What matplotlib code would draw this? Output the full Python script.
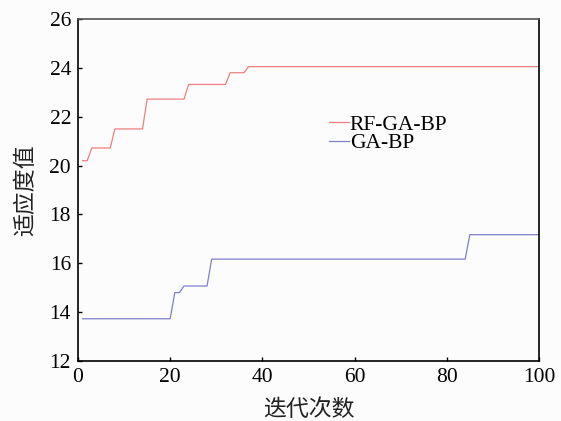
import matplotlib
matplotlib.use("Agg")
import matplotlib.pyplot as plt

# Best fitness per iteration (vertices of the step curves)
rf_iter = [1, 2, 3, 7, 8, 14, 15, 23, 24, 32, 33, 36, 37, 100]
rf_fit = [20.2, 20.2, 20.72, 20.72, 21.5, 21.5, 22.72, 22.72, 23.32, 23.32, 23.8, 23.8, 24.05, 24.05]

ga_iter = [1, 20, 21, 22, 23, 28, 29, 84, 85, 100]
ga_fit = [13.73, 13.73, 14.8, 14.8, 15.07, 15.07, 16.17, 16.17, 17.17, 17.17]

labels = ["RF-GA-BP", "GA-BP"]
xticks = [0, 20, 40, 60, 80, 100]
yticks = [12, 14, 16, 18, 20, 22, 24, 26]

serif = ["Liberation Serif", "DejaVu Serif"]
cjk = ["Noto Sans CJK SC", "DejaVu Sans"]

fig = plt.figure(figsize=(5.61, 4.21), dpi=100, facecolor="#fcfcfc")
ax = fig.add_axes([0.139, 0.1425, 0.8217, 0.8124])
ax.set_facecolor("#fcfcfc")

ax.plot(rf_iter, rf_fit, color="#ee7f7f", lw=0.9, label=labels[0])
ax.plot(ga_iter, ga_fit, color="#7f7fcc", lw=0.9, label=labels[1])

ax.set_xlim(0, 100)
ax.set_ylim(12, 26)
ax.set_xticks(xticks)
ax.set_yticks(yticks)
ax.tick_params(direction="in", length=3, width=1, top=False, right=False,
               labelsize=15.5, pad=5)
for lab in ax.get_xticklabels() + ax.get_yticklabels():
    lab.set_family(serif)

for s in ["left", "bottom", "right"]:
    ax.spines[s].set_linewidth(1.2)
    ax.spines[s].set_color("black")
ax.spines["top"].set_linewidth(1.2)
ax.spines["top"].set_color("#555555")

ax.set_xlabel("迭代次数", family=cjk, fontsize=16.5, labelpad=8, color="#222222")
ax.set_ylabel("适应度值", family=cjk, fontsize=16.5, labelpad=9, color="#222222")

leg = ax.legend(loc="upper left", bbox_to_anchor=(0.545, 0.72), frameon=False,
                prop={"family": serif, "size": 15.5}, handlelength=0.9,
                handletextpad=0.05, labelspacing=-0.08, borderpad=0, borderaxespad=0)

fig.savefig("out.png", dpi=100, facecolor=fig.get_facecolor())
